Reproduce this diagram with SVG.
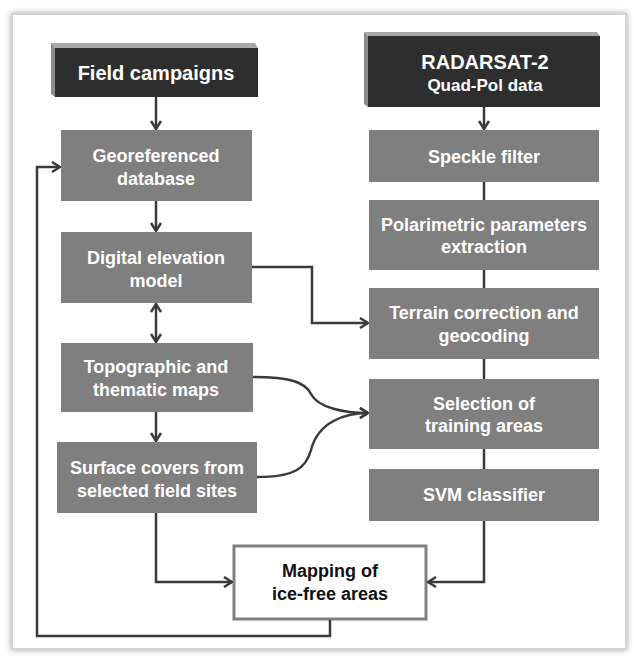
<svg xmlns="http://www.w3.org/2000/svg" width="634" height="656" viewBox="0 0 634 656">
<defs>
<filter id="sh" x="-5%" y="-5%" width="110%" height="110%">
<feDropShadow dx="0" dy="0" stdDeviation="3" flood-color="#000" flood-opacity="0.35"/>
</filter>
<marker id="ah" viewBox="0 0 10 12" refX="9" refY="6" markerWidth="10" markerHeight="12" markerUnits="userSpaceOnUse" orient="auto-start-reverse">
<path d="M1,1 L9,6 L1,11" fill="none" stroke="#3a3a3a" stroke-width="2.5"/>
</marker>
</defs>
<style>
.box{fill:#7f7f7f}
.dark{fill:#2e2e2e}
.bt{fill:#a8a8a8}
.bl{fill:#8c8c8c}
.t{font-family:"Liberation Sans",Arial,sans-serif;font-weight:bold;font-size:18px;fill:#fff;text-anchor:middle}
.tk{fill:#111}
.c{fill:none;stroke:#3a3a3a;stroke-width:2.5}
.a{marker-end:url(#ah)}
</style>
<rect x="12" y="14" width="614" height="635" fill="#fff" stroke="#d4d4d4" stroke-width="2" filter="url(#sh)"/>

<g id="field-campaigns">
<polygon class="bt" points="51,43 255,43 258,48 55,48"/>
<polygon class="bl" points="51,43 55,48 55,97 51,94"/>
<rect class="dark" x="55" y="48" width="203" height="49"/>
<text class="t" x="156" y="80" style="font-size:20px">Field campaigns</text>
</g>

<g id="radarsat">
<polygon class="bt" points="364,32 597,32 600,36 368,36"/>
<polygon class="bl" points="364,32 368,36 368,107 364,104"/>
<rect class="dark" x="368" y="36" width="232" height="71"/>
<text class="t" x="485" y="69" style="font-size:20px">RADARSAT-2</text>
<text class="t" x="485" y="91" style="font-size:17px">Quad-Pol data</text>
</g>

<g id="georeferenced-database">
<rect class="box" x="61" y="130" width="191" height="71"/>
<text class="t" x="156" y="162">Georeferenced</text>
<text class="t" x="156" y="185">database</text>
</g>

<g id="digital-elevation-model">
<rect class="box" x="61" y="232" width="191" height="71"/>
<text class="t" x="156" y="264">Digital elevation</text>
<text class="t" x="156" y="287">model</text>
</g>

<g id="topographic-maps">
<rect class="box" x="61" y="343" width="192" height="69"/>
<text class="t" x="156" y="373">Topographic and</text>
<text class="t" x="156" y="396">thematic maps</text>
</g>

<g id="surface-covers">
<rect class="box" x="57" y="442" width="200" height="71"/>
<text class="t" x="157" y="474">Surface covers from</text>
<text class="t" x="157" y="497">selected field sites</text>
</g>

<g id="speckle-filter">
<rect class="box" x="369" y="130" width="230" height="52"/>
<text class="t" x="484" y="163">Speckle filter</text>
</g>

<g id="polarimetric">
<rect class="box" x="369" y="200" width="230" height="70"/>
<text class="t" x="484" y="231">Polarimetric parameters</text>
<text class="t" x="484" y="253">extraction</text>
</g>

<g id="terrain-correction">
<rect class="box" x="369" y="288" width="230" height="71"/>
<text class="t" x="484" y="319">Terrain correction and</text>
<text class="t" x="484" y="342">geocoding</text>
</g>

<g id="selection-training">
<rect class="box" x="369" y="379" width="230" height="70"/>
<text class="t" x="484" y="410">Selection of</text>
<text class="t" x="484" y="432">training areas</text>
</g>

<g id="svm-classifier">
<rect class="box" x="369" y="469" width="230" height="52"/>
<text class="t" x="484" y="501">SVM classifier</text>
</g>

<g id="mapping-ice-free">
<rect x="234" y="546" width="192" height="73" fill="#fff" stroke="#808080" stroke-width="3"/>
<text class="t tk" x="330" y="577">Mapping of</text>
<text class="t tk" x="330" y="600">ice-free areas</text>
</g>

<g id="connectors">
<path class="c a" d="M156,97 L156,129"/>
<path class="c a" d="M156,201 L156,231"/>
<path class="c a" d="M156,304 L156,342" marker-start="url(#ah)"/>
<path class="c a" d="M156,412 L156,441"/>
<path class="c a" d="M484,107 L484,129"/>
<path class="c" d="M484,182 L484,200"/>
<path class="c" d="M484,270 L484,288"/>
<path class="c" d="M484,359 L484,379"/>
<path class="c" d="M484,449 L484,469"/>
<path class="c a" d="M252,267 L312,267 L312,323 L368,323"/>
<path class="c a" d="M253,377 C290,377 305,382 311,394 C318,408 345,413 368,413"/>
<path class="c a" d="M257,477 C295,477 306,468 311,450 C318,422 345,413 368,413"/>
<path class="c a" d="M156,513 L156,582 L232,582"/>
<path class="c a" d="M484,521 L484,582 L428,582"/>
<path class="c a" d="M330,620 L330,636 L37,636 L37,167 L60,167"/>
</g>
</svg>
